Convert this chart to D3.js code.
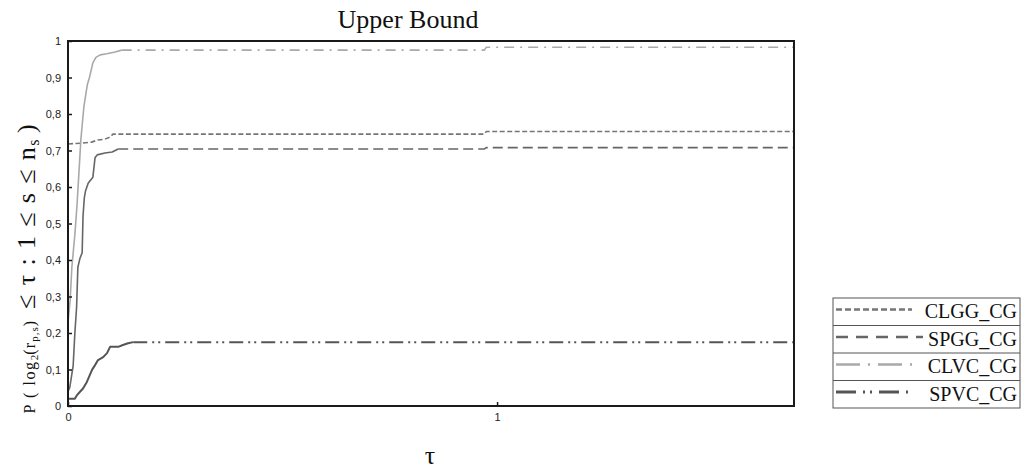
<!DOCTYPE html>
<html>
<head>
<meta charset="utf-8">
<script src="https://cdn.jsdelivr.net/npm/d3@7"></script>
<style>
  html, body { margin: 0; padding: 0; background: #fff; }
  svg { display: block; }
</style>
</head>
<body>
<svg id="chart" width="1031" height="471"></svg>
<script>
// ---- data ----
const seriesNames = ["CLGG_CG", "SPGG_CG", "CLVC_CG", "SPVC_CG"];
const yTicks = [0, 0.1, 0.2, 0.3, 0.4, 0.5, 0.6, 0.7, 0.8, 0.9, 1];
const xTicks = [0, 1];
const xMax = 1.692;

const clggTau = [0, 0.03, 0.055, 0.07, 0.086, 0.098, 0.105, 0.97, 0.975, 1.692];
const clggP   = [0.718, 0.72, 0.723, 0.729, 0.731, 0.737, 0.745, 0.745, 0.752, 0.752];

const spggTau = [0, 0.004, 0.012, 0.016, 0.02, 0.023, 0.028, 0.033, 0.035, 0.038, 0.041, 0.047, 0.058, 0.063, 0.068, 0.086, 0.103, 0.11, 0.117, 0.97, 0.975, 1.692];
const spggP   = [0.04, 0.05, 0.11, 0.2, 0.27, 0.38, 0.405, 0.42, 0.52, 0.57, 0.59, 0.61, 0.627, 0.68, 0.688, 0.693, 0.696, 0.70, 0.704, 0.704, 0.708, 0.708];

const clvcTau = [0, 0.005, 0.009, 0.016, 0.021, 0.024, 0.03, 0.037, 0.045, 0.05, 0.058, 0.065, 0.075, 0.09, 0.11, 0.125, 0.97, 0.975, 1.692];
const clvcP   = [0.23, 0.29, 0.38, 0.47, 0.55, 0.61, 0.73, 0.82, 0.88, 0.90, 0.94, 0.955, 0.962, 0.965, 0.97, 0.975, 0.975, 0.983, 0.983];

const spvcTau = [0, 0.016, 0.021, 0.028, 0.035, 0.044, 0.051, 0.056, 0.063, 0.07, 0.082, 0.091, 0.098, 0.117, 0.128, 0.14, 0.152, 1.692];
const spvcP   = [0.02, 0.02, 0.03, 0.039, 0.048, 0.066, 0.085, 0.099, 0.112, 0.126, 0.134, 0.145, 0.162, 0.162, 0.167, 0.172, 0.175, 0.175];

// tau where each line stops being drawn solid and becomes dashed
const dashFrom = [0, 0.117, 0.125, 0.152];

// ---- styles ----
const styles = {
  "CLGG_CG": { color: "#767676", width: 1.6, dash: "5,2.5", legendDash: "6,3" },
  "SPGG_CG": { color: "#666666", width: 1.6, dash: "10,5", legendDash: "12,8" },
  "CLVC_CG": { color: "#a9a9a9", width: 1.6, dash: "10,6,2,6", legendDash: "24,8,2,8" },
  "SPVC_CG": { color: "#555555", width: 2.0, dash: "14,5,2,4,2,5", legendDash: "20,7,2,5,2,7" }
};

const series = [
  { name: seriesNames[0], tau: clggTau, p: clggP },
  { name: seriesNames[1], tau: spggTau, p: spggP },
  { name: seriesNames[2], tau: clvcTau, p: clvcP },
  { name: seriesNames[3], tau: spvcTau, p: spvcP }
].map((s, j) => ({ ...s, dashFrom: dashFrom[j], pts: s.tau.map((t, i) => [t, s.p[i]]) }));

// ---- layout ----
const svg = d3.select("#chart");
const plot = { left: 68, right: 794, top: 41, bottom: 406 };

const x = d3.scaleLinear().domain([0, xMax]).range([plot.left, plot.right]);
const y = d3.scaleLinear().domain([0, 1]).range([plot.bottom, plot.top]);

// title
svg.append("text")
  .attr("x", 408).attr("y", 28)
  .attr("text-anchor", "middle")
  .attr("font-family", "Liberation Serif, Times New Roman, serif")
  .attr("font-size", 26)
  .attr("fill", "#111")
  .text("Upper Bound");

// lines: solid on the rise, dashed on the plateau
const line = d3.line().x(d => x(d[0])).y(d => y(d[1]));
const gLines = svg.append("g");
series.forEach(s => {
  const st = styles[s.name];
  const rise = s.pts.filter(p => p[0] <= s.dashFrom);
  const flat = s.pts.filter(p => p[0] >= s.dashFrom);
  if (rise.length > 1) {
    gLines.append("path").attr("d", line(rise))
      .attr("fill", "none").attr("stroke", st.color).attr("stroke-width", st.width)
      .attr("stroke-linejoin", "round");
  }
  gLines.append("path").attr("d", line(flat))
    .attr("fill", "none").attr("stroke", st.color).attr("stroke-width", st.width)
    .attr("stroke-dasharray", st.dash);
});

// frame
svg.append("rect")
  .attr("x", plot.left).attr("y", plot.top)
  .attr("width", plot.right - plot.left).attr("height", plot.bottom - plot.top)
  .attr("fill", "none").attr("stroke", "#1a1a1a").attr("stroke-width", 2);

// axes
const fmt = d => d === 0 ? "0" : d === 1 ? "1" : d3.format(".1f")(d).replace(".", ",");
const yAxis = d3.axisLeft(y).tickValues(yTicks).tickSize(-4).tickPadding(7).tickFormat(fmt);
const gy = svg.append("g").attr("transform", `translate(${plot.left},0)`).call(yAxis);
gy.select(".domain").remove();
gy.selectAll("line").attr("stroke", "#1a1a1a").attr("stroke-width", 1.5);
gy.selectAll("text").attr("font-family", "Liberation Sans, Arial, sans-serif").attr("font-size", 11).attr("fill", "#222");

const xAxis = d3.axisBottom(x).tickValues(xTicks).tickSize(-4).tickPadding(7).tickFormat(d => String(d));
const gx = svg.append("g").attr("transform", `translate(0,${plot.bottom})`).call(xAxis);
gx.select(".domain").remove();
gx.selectAll("line").attr("stroke", "#1a1a1a").attr("stroke-width", 1.5);
gx.selectAll("text").attr("font-family", "Liberation Sans, Arial, sans-serif").attr("font-size", 11).attr("fill", "#222");

// x label
svg.append("text")
  .attr("x", 430).attr("y", 464)
  .attr("text-anchor", "middle")
  .attr("font-family", "Liberation Serif, Times New Roman, serif")
  .attr("font-size", 26)
  .attr("fill", "#111")
  .text("τ");

// y label
const yl = svg.append("text")
  .attr("transform", "translate(35,269) rotate(-90)")
  .attr("text-anchor", "middle")
  .attr("font-family", "Liberation Serif, Times New Roman, serif")
  .attr("fill", "#111");
yl.append("tspan").attr("font-size", 16).attr("letter-spacing", 1.6).text("P ( log");
yl.append("tspan").attr("font-size", 11).attr("dy", 3).text("2");
yl.append("tspan").attr("font-size", 16).attr("dy", -3).attr("letter-spacing", 1.2).text("(r");
yl.append("tspan").attr("font-size", 11).attr("dy", 3).attr("letter-spacing", 1).text("p,s");
yl.append("tspan").attr("font-size", 16).attr("dy", -3).text(")\u00a0\u00a0\u00a0");
yl.append("tspan").attr("font-size", 26).attr("letter-spacing", 1.4).text("≤ τ : 1 ≤ s ≤ n");
yl.append("tspan").attr("font-size", 16).attr("dy", 4).text("s");
yl.append("tspan").attr("font-size", 26).attr("dy", -4).text(" )");

// legend
const lg = { x: 833, y: 298, w: 187, rowH: 27.5 };
const legend = svg.append("g");
legend.append("rect")
  .attr("x", lg.x).attr("y", lg.y).attr("width", lg.w).attr("height", lg.rowH * series.length)
  .attr("fill", "#fff").attr("stroke", "#555").attr("stroke-width", 1);
const rows = legend.selectAll("g.row").data(series).join("g")
  .attr("class", "row")
  .attr("transform", (d, i) => `translate(${lg.x},${lg.y + i * lg.rowH})`);
rows.filter((d, i) => i > 0).append("line")
  .attr("x1", 0).attr("x2", lg.w).attr("y1", 0).attr("y2", 0)
  .attr("stroke", "#555").attr("stroke-width", 1);
rows.append("line")
  .attr("x1", 3).attr("x2", (d, i) => i === 1 ? 90 : 79)
  .attr("y1", 11.5).attr("y2", 11.5)
  .attr("stroke", d => styles[d.name].color)
  .attr("stroke-width", d => styles[d.name].width + 1)
  .attr("stroke-dasharray", d => styles[d.name].legendDash);
rows.append("text")
  .attr("x", lg.w - 3).attr("y", 20)
  .attr("text-anchor", "end")
  .attr("font-family", "Liberation Serif, Times New Roman, serif")
  .attr("font-size", 20)
  .attr("fill", "#111")
  .text(d => d.name);
</script>
</body>
</html>
